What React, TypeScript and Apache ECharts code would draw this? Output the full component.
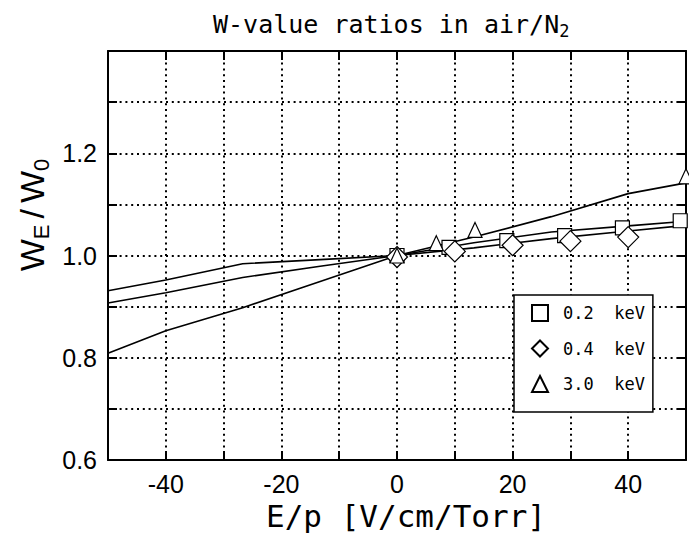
import React, { useEffect, useRef } from 'react';
import * as echarts from 'echarts';

// Fitted curves (drawn as lines)
const lineX = [-50, -40, -26.7, -13.3, 0, 13.3, 26.7, 40, 50];
const line02 = [0.907, 0.927, 0.957, 0.979, 1.0, 1.025, 1.046, 1.058, 1.067];
const line04 = [0.931, 0.952, 0.984, 0.992, 1.0, 1.015, 1.033, 1.048, 1.059];
const line30 = [0.809, 0.853, 0.898, 0.949, 1.0, 1.036, 1.076, 1.121, 1.142];

// Measured points (markers)
const sqX = [0, 9, 19, 29, 39, 49];
const sqY = [1.0, 1.016, 1.029, 1.039, 1.054, 1.068];
const diX = [0, 10, 20, 30, 40];
const diY = [0.997, 1.008, 1.02, 1.028, 1.036];
const trX = [0, 6.8, 13.5, 50];
const trY = [1.0, 1.024, 1.05, 1.155];

const seriesNames = ['0.2  keV', '0.4  keV', '3.0  keV'];
const xTickLabels = [-40, -20, 0, 20, 40];
const yTickLabels = ['0.6', '0.8', '1.0', '1.2'];

const MONO = "'DejaVu Sans Mono', 'Liberation Mono', monospace";
const SANS = "'Liberation Sans', Arial, sans-serif";

const pair = (xs: number[], ys: number[]) => xs.map((x, i) => [x, ys[i]]);

export default function App() {
  const ref = useRef<HTMLDivElement>(null);
  useEffect(() => {
    if (!ref.current) return;
    const chart = echarts.init(ref.current, undefined, { renderer: 'svg' });
    const lineSeries = (ys: number[]) => ({
      type: 'line',
      data: pair(lineX, ys),
      showSymbol: false,
      symbol: 'none',
      lineStyle: { color: '#000', width: 1.6 },
      silent: true,
      z: 2,
    });
    const scat = (name: string, xs: number[], ys: number[], symbol: string, size: any) => ({
      type: 'scatter',
      name,
      data: pair(xs, ys),
      symbol,
      symbolSize: size,
      itemStyle: { color: '#fff', borderColor: '#000', borderWidth: 1.2, opacity: 1 },
      clip: false,
      z: 3,
    });
    const axisLine = { show: true, onZero: false, lineStyle: { color: '#000', width: 2 } };
    const axisTick = { show: true, inside: true, length: 9, lineStyle: { color: '#000', width: 2 } };
    const dotted = { show: true, lineStyle: { type: [2, 3.8], width: 2, color: '#000' } };
    chart.setOption({
      animation: false,
      backgroundColor: '#fff',
      title: {
        text: '{a|W-value ratios in air/N}{s|2}',
        left: 208,
        top: 4,
        textStyle: {
          fontWeight: 'normal',
          rich: {
            a: { fontFamily: MONO, fontSize: 25, fontWeight: 'normal', color: '#000', lineHeight: 30 },
            s: { fontFamily: MONO, fontSize: 17, fontWeight: 'normal', color: '#000', lineHeight: 17, verticalAlign: 'bottom', padding: [9, 0, 0, 0] },
          },
        },
      },
      grid: { left: 108, right: 1, top: 51, bottom: 75, containLabel: false },
      xAxis: [
        {
          type: 'value', min: -50, max: 50, interval: 10, position: 'bottom',
          axisLine, axisTick,
          axisLabel: {
            formatter: (v: number) => (xTickLabels.includes(v) ? String(v) : ''),
            color: '#000', fontFamily: SANS, fontSize: 25, margin: 11,
          },
          splitLine: dotted,
        },
        {
          type: 'value', min: -50, max: 50, interval: 10, position: 'top',
          axisLine, axisTick, axisLabel: { show: false }, splitLine: { show: false },
        },
      ],
      yAxis: [
        {
          type: 'value', min: 0.6, max: 1.4, interval: 0.1, position: 'left',
          axisLine, axisTick,
          axisLabel: {
            formatter: (v: number) => {
              const s = v.toFixed(1);
              return yTickLabels.includes(s) ? s : '';
            },
            color: '#000', fontFamily: SANS, fontSize: 25, margin: 11,
          },
          splitLine: dotted,
        },
        {
          type: 'value', min: 0.6, max: 1.4, interval: 0.1, position: 'right',
          axisLine, axisTick, axisLabel: { show: false }, splitLine: { show: false },
        },
      ],
      legend: {
        data: seriesNames,
        orient: 'vertical',
        left: 514,
        top: 295,
        backgroundColor: '#fff',
        borderColor: '#000',
        borderWidth: 1.5,
        padding: [9, 8, 19, 17],
        itemWidth: 16,
        itemHeight: 16,
        itemGap: 17.5,
        textStyle: { fontFamily: MONO, fontSize: 17, color: '#000', lineHeight: 16, padding: [0, 0, 0, 10] },
        selectedMode: false,
        z: 10,
      },
      graphic: [
        {
          type: 'text',
          x: 32,
          y: 215,
          rotation: Math.PI / 2,
          style: {
            text: '{a|W}{s|E}{b|/}{a|W}{s|0}',
            align: 'center',
            verticalAlign: 'middle',
            rich: {
              a: { fontFamily: SANS, fontSize: 34, color: '#000', lineHeight: 40 },
              b: { fontFamily: SANS, fontSize: 34, color: '#000', lineHeight: 40, padding: [0, 6, 0, 6] },
              s: { fontFamily: SANS, fontSize: 22, color: '#000', lineHeight: 22, verticalAlign: 'bottom', padding: [10, 0, 0, 0] },
            },
          },
        },
        {
          type: 'text',
          x: 406,
          y: 516,
          style: {
            text: 'E/p [V/cm/Torr]',
            fontFamily: MONO,
            fontSize: 31,
            fill: '#000',
            align: 'center',
            verticalAlign: 'middle',
          },
        },
      ],
      series: [
        lineSeries(line02),
        lineSeries(line04),
        lineSeries(line30),
        scat(seriesNames[0], sqX, sqY, 'rect', 14),
        scat(seriesNames[1], diX, diY, 'diamond', 21),
        scat(seriesNames[2], trX, trY, 'triangle', [14, 15]),
      ],
    });
    return () => chart.dispose();
  }, []);
  return (
    <div
      ref={ref}
      style={{ position: 'fixed', left: 0, top: 0, width: 689, height: 535, background: '#fff' }}
    />
  );
}
